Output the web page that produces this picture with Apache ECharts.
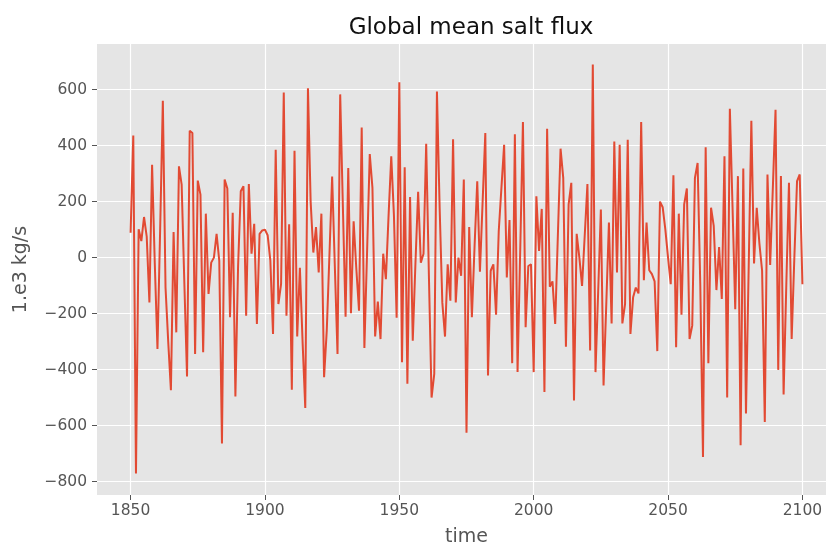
<!DOCTYPE html>
<html>
<head>
<meta charset="utf-8">
<title>Global mean salt flux</title>
<script src="https://cdn.jsdelivr.net/npm/echarts@6/dist/echarts.min.js"></script>
<style>
  html, body { margin: 0; padding: 0; background: #ffffff; }
  #chart { width: 826px; height: 545px; }
</style>
</head>
<body>
<div id="chart"></div>
<script>
// Annual global mean salt flux, 1850-2100 (1.e3 kg/s)
const firstYear = 1850;
const saltFlux = [
  89, 436, -771, 101, 59, 145, 75, -160, 332, -20,
  -326, 100, 560, -107, -300, -474, 91, -267, 326, 261,
  -90, -425, 453, 445, -344, 275, 225, -338, 157, -130,
  -18, 0, 85, -12, -664, 279, 247, -213, 160, -496,
  -30, 237, 255, -208, 263, 14, 121, -237, 85, 97,
  100, 80, -10, -273, 385, -166, -95, 590, -208, 119,
  -472, 382, -282, -36, -300, -537, 605, 200, 18, 109,
  -53, 157, -427, -260, 10, 290, -30, -344, 583, 180,
  -211, 320, -199, 130, -40, -190, 465, -323, 20, 370,
  249, -282, -157, -291, 14, -77, 150, 362, 150, -215,
  626, -374, 323, -451, 216, -297, -20, 235, -18, 14,
  407, -60, -500, -415, 593, 180, -160, -282, -24, -154,
  423, -160, 0, -65, 279, -626, 109, -213, 40, 273,
  -50, 200, 445, -421, -47, -24, -204, 95, 250, 403,
  -71, 134, -377, 441, -409, 30, 484, -249, -30, -24,
  -409, 219, 24, 174, -480, 460, -104, -85, -237, 80,
  389, 285, -318, 190, 267, -510, 85, 0, -101, 80,
  263, -332, 690, -409, -120, 172, -457, -170, 125, -235,
  415, -53, 403, -235, -166, 421, -273, -142, -107, -128,
  484, -81, 125, -45, -59, -85, -334, 200, 180, 100,
  0, -95, 294, -320, 157, -204, 190, 247, -291, -243,
  285, 338, -100, -712, 394, -377, 178, 113, -116, 38,
  -148, 362, -500, 532, 180, -184, 291, -670, 318, -557,
  -40, 489, -21, 178, 50, -47, -587, 297, -26, 250,
  528, -401, 291, -489, -100, 267, -291, 0, 273, 297,
  -95
];
const years = saltFlux.map((_, i) => firstYear + i);

const xTicks = [1850, 1900, 1950, 2000, 2050, 2100];
const yTicks = [-800, -600, -400, -200, 0, 200, 400, 600];

const titleText = 'Global mean salt flux';
const xName = 'time';
const yName = '1.e3 kg/s';

const FONT = 'DejaVu Sans';
const minus = v => String(v).replace('-', '\u2212');

const chart = echarts.init(document.getElementById('chart'), null, { renderer: 'canvas' });
chart.setOption({
  animation: false,
  backgroundColor: '#ffffff',
  title: {
    text: titleText,
    left: 466,
    top: 12,
    textAlign: 'center',
    textStyle: { fontFamily: FONT, fontSize: 23, fontWeight: 'normal', color: '#111111' }
  },
  grid: {
    left: 97, top: 44, width: 739, height: 451,
    outerBoundsMode: 'none',
    containLabel: false,
    show: true, backgroundColor: '#E5E5E5', borderWidth: 0
  },
  xAxis: {
    type: 'value',
    min: 1837.5, max: 2112.5,
    minInterval: 50, maxInterval: 50,
    name: xName,
    nameLocation: 'middle',
    nameGap: 33,
    nameTextStyle: { fontFamily: FONT, fontSize: 19, color: '#555555' },
    axisLine: { show: false, onZero: false },
    axisTick: { show: true, customValues: xTicks, length: 5, lineStyle: { color: '#555555', width: 1 } },
    axisLabel: {
      customValues: xTicks, margin: 8,
      fontFamily: FONT, fontSize: 15.5, color: '#555555',
      formatter: v => String(v)
    },
    splitLine: { show: true, lineStyle: { color: '#ffffff', width: 1.2 } }
  },
  yAxis: {
    type: 'value',
    min: -848, max: 763,
    minInterval: 200, maxInterval: 200,
    name: yName,
    nameLocation: 'middle',
    nameRotate: 90,
    nameGap: 66,
    nameTextStyle: { fontFamily: FONT, fontSize: 19, color: '#555555' },
    axisLine: { show: false, onZero: false },
    axisTick: { show: true, customValues: yTicks, length: 5, lineStyle: { color: '#555555', width: 1 } },
    axisLabel: {
      customValues: yTicks, margin: 10,
      fontFamily: FONT, fontSize: 15.5, color: '#555555',
      formatter: v => minus(v)
    },
    splitLine: { show: true, lineStyle: { color: '#ffffff', width: 1.2 } }
  },
  series: [{
    type: 'line',
    data: years.map((y, i) => [y, saltFlux[i]]),
    showSymbol: false,
    symbol: 'none',
    lineStyle: { color: '#E24A33', width: 2 },
    clip: true
  }]
});
</script>
</body>
</html>
